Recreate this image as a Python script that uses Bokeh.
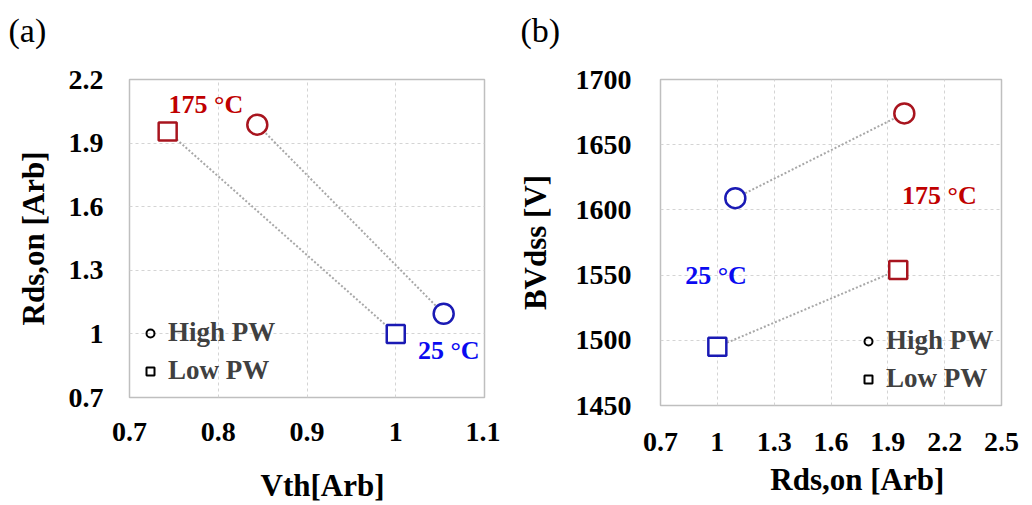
import math
from bokeh.plotting import figure
from bokeh.layouts import row, column
from bokeh.models import FixedTicker, NumeralTickFormatter, Legend, LegendItem, Label, Range1d, Title
from bokeh.embed import file_html
from bokeh.resources import INLINE

# ---- data ----
temps = ["175 °C", "25 °C"]
colors = ["#A8141E", "#1A1AB4"]
text_colors = ["#C00000", "#0A0AF0"]
vth_high = [0.844, 1.054]
rds_high = [1.987, 1.095]
vth_low = [0.743, 1.0]
rds_low = [1.955, 1.0]
bv_high = [1674, 1609]
bv_low = [1554, 1495]

x1_ticks = [0.7, 0.8, 0.9, 1.0, 1.1]
y1_ticks = [0.7, 1.0, 1.3, 1.6, 1.9, 2.2]
x2_ticks = [0.7, 1.0, 1.3, 1.6, 1.9, 2.2, 2.5]
y2_ticks = [1450, 1500, 1550, 1600, 1650, 1700]

FONT = "Liberation Serif"
GRID = "#d4d4d4"
CONN = "#a8a8a8"


def base_fig(width, height, xr, yr, xt, yt, xlabel, ylabel, mb_left, mb_right, mb_top, mb_bottom,
             panel, panel_offset):
    p = figure(width=width, height=height, x_range=Range1d(*xr), y_range=Range1d(*yr),
               output_backend="svg", toolbar_location=None, title=None,
               min_border_left=mb_left, min_border_right=mb_right,
               min_border_top=mb_top, min_border_bottom=mb_bottom)
    p.xaxis.ticker = FixedTicker(ticks=xt)
    p.yaxis.ticker = FixedTicker(ticks=yt)
    for ax in (p.xaxis, p.yaxis):
        ax.axis_line_color = None
        ax.major_tick_line_color = None
        ax.minor_tick_line_color = None
        ax.major_label_text_font = FONT
        ax.major_label_text_font_style = "bold"
        ax.major_label_text_font_size = "28px"
        ax.major_label_text_color = "black"
        ax.axis_label_text_font = FONT
        ax.axis_label_text_font_style = "bold"
        ax.axis_label_text_font_size = "31px"
        ax.axis_label_text_color = "black"
    p.xaxis.axis_label = xlabel
    p.yaxis.axis_label = ylabel
    p.xgrid.grid_line_color = GRID
    p.ygrid.grid_line_color = GRID
    p.xgrid.grid_line_dash = "3 3"
    p.ygrid.grid_line_dash = "3 3"
    p.outline_line_color = "#bfbfbf"
    p.outline_line_width = 1.5
    # spacer between frame and the panel tag, then the tag itself
    p.add_layout(Title(text=" ", text_font_size="1px", standoff=28), "above")
    p.add_layout(Title(text=panel, text_font=FONT, text_font_style="normal", text_font_size="34px",
                       text_color="black", align="left", vertical_align="bottom",
                       offset=panel_offset, standoff=0), "above")
    p.background_fill_color = "white"
    p.border_fill_color = "white"
    return p


def add_legend(p, loc):
    hc = p.scatter(x=[math.nan], y=[math.nan], marker="circle", size=12, line_color="black",
                   line_width=2, fill_color=None)
    hs = p.scatter(x=[math.nan], y=[math.nan], marker="square", size=12, line_color="black",
                   line_width=2, fill_color=None)
    leg = Legend(items=[LegendItem(label="High PW", renderers=[hc]),
                        LegendItem(label="Low PW", renderers=[hs])],
                 location=loc)
    leg.label_text_font = FONT
    leg.label_text_font_style = "bold"
    leg.label_text_font_size = "27px"
    leg.label_text_color = "#404040"
    leg.background_fill_alpha = 0
    leg.border_line_alpha = 0
    leg.padding = 0
    leg.margin = 0
    leg.spacing = 7
    leg.glyph_width = 20
    leg.glyph_height = 30
    leg.label_height = 30
    leg.label_standoff = 8
    p.add_layout(leg)


def text_label(p, x, y, text, color, size, align="left"):
    p.add_layout(Label(x=x, y=y, text=text, text_color=color, text_font=FONT,
                       text_font_style="bold", text_font_size=size, text_baseline="middle",
                       text_align=align))


# ---- panel (a) ----
p1 = base_fig(500, 505, (0.7, 1.1), (0.7, 2.2), x1_ticks, y1_ticks,
              "\u2002\u2002Vth[Arb]", "Rds,on [Arb]", 129, 16, 79, 107, "(a)", -121)
p1.xaxis.formatter = NumeralTickFormatter(format="0.[0]")
p1.yaxis.formatter = NumeralTickFormatter(format="0.[0]")
p1.xaxis.major_label_standoff = 19
p1.xaxis.axis_label_standoff = 24
p1.yaxis.major_label_standoff = 20
p1.yaxis.axis_label_standoff = 15

p1.line(x=vth_low, y=rds_low, line_color=CONN, line_width=2, line_dash="2 2")
p1.line(x=vth_high, y=rds_high, line_color=CONN, line_width=2, line_dash="2 2")
p1.scatter(x=vth_high, y=rds_high, marker="circle", size=20, line_color=colors, line_width=2.5, fill_color="white")
p1.scatter(x=vth_low, y=rds_low, marker="square", size=18, line_color=colors, line_width=2.5, fill_color="white")
add_legend(p1, (11, 11))
text_label(p1, 0.744, 2.083, temps[0], text_colors[0], "26px")
text_label(p1, 1.025, 0.92, temps[1], text_colors[1], "26px")

# ---- panel (b) ----
p2 = base_fig(532, 505, (0.7, 2.5), (1450, 1700), x2_ticks, y2_ticks,
              "\u2003\u2002\u2009Rds,on [Arb]", "BVdss [V]", 160, 31, 79, 100, "(b)", -140)
p2.xaxis.formatter = NumeralTickFormatter(format="0.[0]")
p2.yaxis.formatter = NumeralTickFormatter(format="0")
p2.xaxis.major_label_standoff = 21
p2.xaxis.axis_label_standoff = 8
p2.yaxis.major_label_standoff = 23
p2.yaxis.axis_label_standoff = 20

p2.line(x=rds_high, y=bv_high, line_color=CONN, line_width=2, line_dash="2 2")
p2.line(x=rds_low, y=bv_low, line_color=CONN, line_width=2, line_dash="2 2")
p2.scatter(x=rds_high, y=bv_high, marker="circle", size=20, line_color=colors, line_width=2.5, fill_color="white")
p2.scatter(x=rds_low, y=bv_low, marker="square", size=18, line_color=colors, line_width=2.5, fill_color="white")
add_legend(p2, (198, 11))
text_label(p2, 1.975, 1611, temps[0], text_colors[0], "26px")
text_label(p2, 0.83, 1550, temps[1], text_colors[1], "26px")

layout = row(column(p1), column(p2))
open("out.html", "w").write(file_html(layout, INLINE))
